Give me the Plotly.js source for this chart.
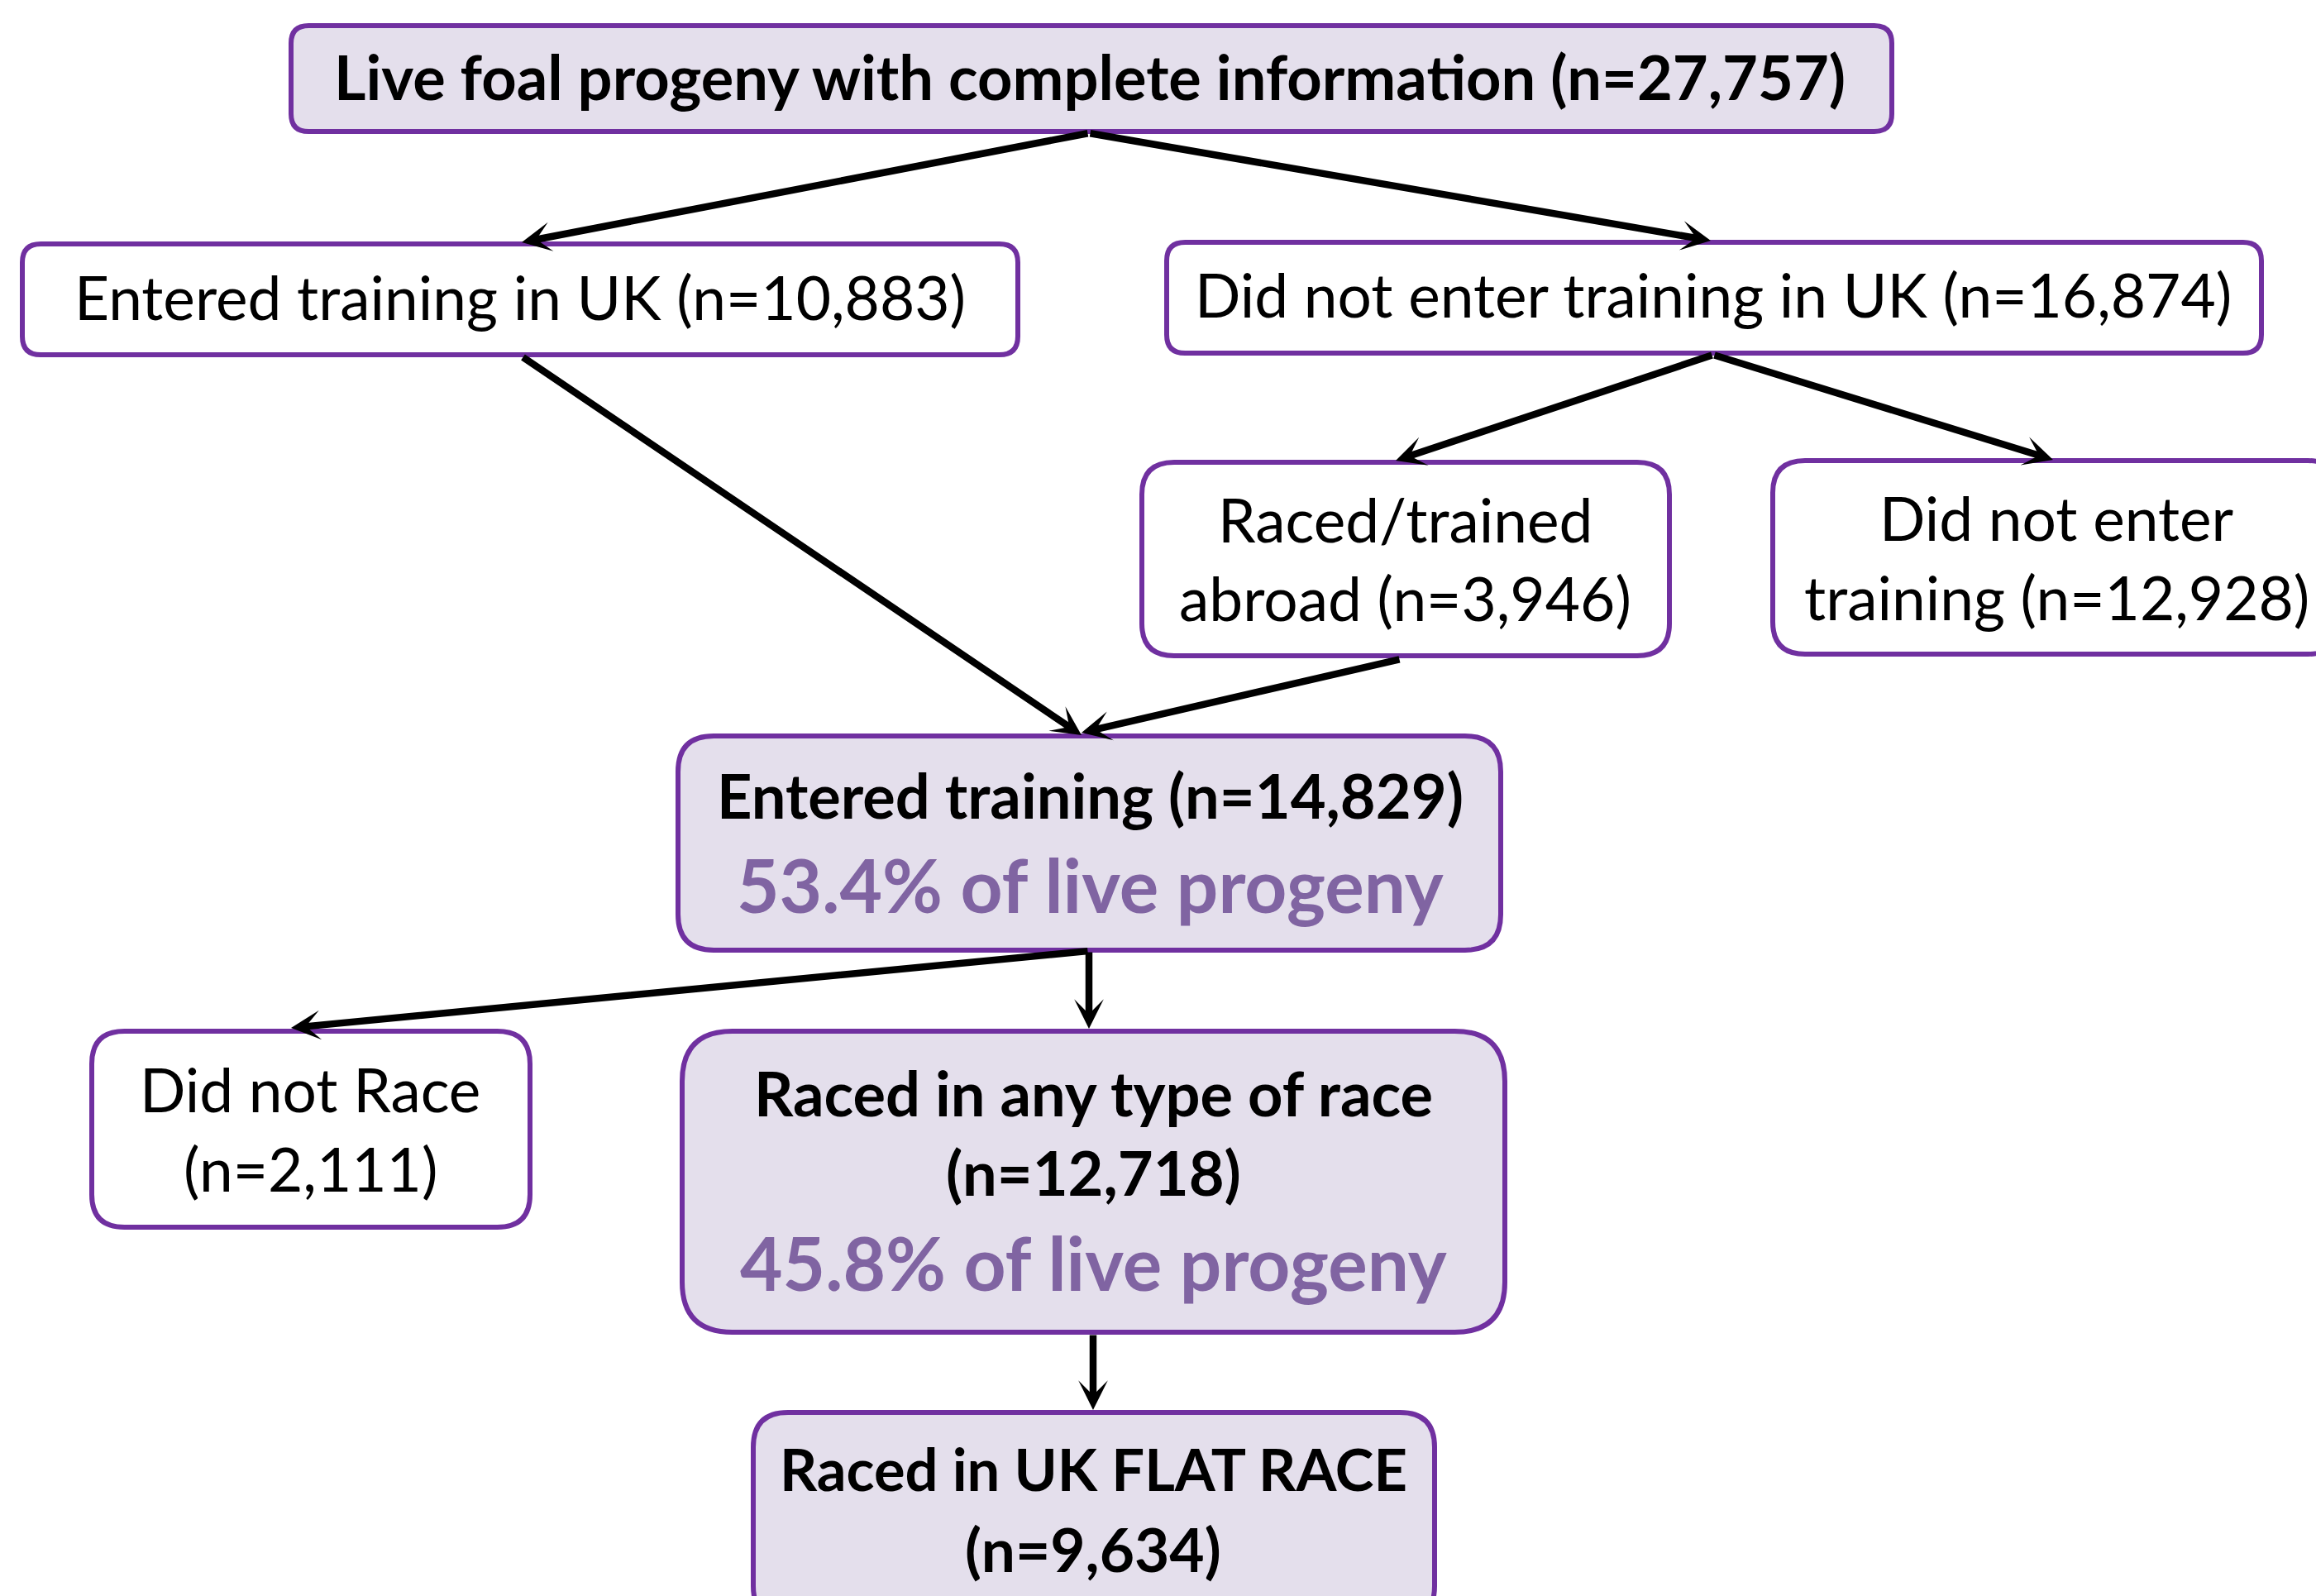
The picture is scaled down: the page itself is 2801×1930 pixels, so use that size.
<!DOCTYPE html>
<html>
<head>
<meta charset="utf-8">
<script src="https://cdn.plot.ly/plotly-3.0.1.min.js"></script>
<style>
html,body{margin:0;padding:0;background:#fff;}
#chart{width:2801px;height:1930px;}
</style>
</head>
<body>
<div id="chart"></div>
<script>
// ---- data ----
const stageNames = [
  "Live foal progeny with complete information",
  "Entered training in UK",
  "Did not enter training in UK",
  "Raced/trained abroad",
  "Did not enter training",
  "Entered training",
  "Did not Race",
  "Raced in any type of race",
  "Raced in UK FLAT RACE"
];
const stageCounts = [27757, 10883, 16874, 3946, 12928, 14829, 2111, 12718, 9634];
const highlighted = [true, false, false, false, false, true, false, true, true];
// flows: [from index, to index]
const flowFrom = [0, 0, 1, 2, 2, 3, 5, 5, 7];
const flowTo   = [1, 2, 5, 3, 4, 5, 6, 7, 8];

// ---- layout geometry (pixels) ----
const boxes = [
  {x0:352, x1:2288, y0:31, y1:159},
  {x0:27, x1:1231, y0:295, y1:429},
  {x0:1411, x1:2735, y0:293, y1:427},
  {x0:1381, x1:2019, y0:559, y1:793},
  {x0:2144, x1:2830, y0:557, y1:791},
  {x0:820, x1:1815, y0:890, y1:1149},
  {x0:111, x1:641, y0:1247, y1:1484},
  {x0:825, x1:1820, y0:1247, y1:1611},
  {x0:911, x1:1735, y0:1708, y1:1960}
];
const fmt = n => n.toLocaleString('en-US');
const pct = i => (100*stageCounts[i]/stageCounts[0]).toFixed(1) + "% of live progeny";
// text lines per box: [text, y, kind, size]
const lines = [
  [[stageNames[0] + " (n=" + fmt(stageCounts[0]) + ")", 92, 'b', 74]],
  [[stageNames[1] + " (n=" + fmt(stageCounts[1]) + ")", 359, 'r', 73]],
  [[stageNames[2] + " (n=" + fmt(stageCounts[2]) + ")", 356, 'r', 73]],
  [["Raced/trained", 628, 'r', 73], ["abroad (n=" + fmt(stageCounts[3]) + ")", 723, 'r', 73]],
  [["Did not enter", 626, 'r', 73], ["training (n=" + fmt(stageCounts[4]) + ")", 722, 'r', 73]],
  [[stageNames[5] + " (n=" + fmt(stageCounts[5]) + ")", 961, 'b', 74], [pct(5), 1069, 'p', 89]],
  [[stageNames[6], 1317, 'r', 73], ["(n=" + fmt(stageCounts[6]) + ")", 1413, 'r', 73]],
  [[stageNames[7], 1321, 'b', 74], ["(n=" + fmt(stageCounts[7]) + ")", 1417, 'b', 74], [pct(7), 1526, 'p', 89]],
  [[stageNames[8], 1775, 'b', 70.5], ["(n=" + fmt(stageCounts[8]) + ")", 1873, 'b', 73]]
];
const textX = [1318, 629, 2072, 1699, 2487, 1318, 375, 1322, 1322];
// arrow endpoints [tailX, tailY, headX, headY]
const arrows = [
  [1317,161, 631,293],
  [1317,161, 2069,291],
  [631,431, 1308,889],
  [2072,429, 1688,557],
  [2072,429, 2483,556],
  [1694,797, 1308,886],
  [1317,1150, 352,1243],
  [1317,1150, 1317,1244],
  [1322,1613, 1322,1705]
];

const PURPLE = '#7030A0';
const FILL = '#E4DFEC';
const PCT = '#8064A2';
const FONT = 'Lato, "Open Sans", sans-serif';

function rrect(b){
  const r = 0.1667*Math.min(b.x1-b.x0, b.y1-b.y0);
  const {x0,x1,y0,y1} = b;
  return `M${x0+r},${y0} L${x1-r},${y0} Q${x1},${y0} ${x1},${y0+r} L${x1},${y1-r} Q${x1},${y1} ${x1-r},${y1} L${x0+r},${y1} Q${x0},${y1} ${x0},${y1-r} L${x0},${y0+r} Q${x0},${y0} ${x0+r},${y0} Z`;
}

const shapes = boxes.map((b,i)=>({
  type:'path', path: rrect(b), xref:'x', yref:'y',
  line:{color:PURPLE, width:6},
  fillcolor: highlighted[i] ? FILL : '#FFFFFF',
  layer:'below'
}));

const annotations = [];
arrows.forEach((a)=>{
  annotations.push({
    x:a[2], y:a[3], ax:a[0], ay:a[1], xref:'x', yref:'y', axref:'x', ayref:'y',
    text:'', showarrow:true, arrowhead:3, arrowsize:0.7, arrowwidth:8.5, arrowcolor:'#000',
    standoff:0, startstandoff:0
  });
});
lines.forEach((ls, i)=>{
  ls.forEach(([t, y, kind, sz])=>{
    const f = kind==='b' ? {size:sz, color:'#000', family:FONT, weight:'bold'}
            : kind==='p' ? {size:sz, color:PCT, family:FONT, weight:'bold'}
            : {size:sz, color:'#000', family:FONT};
    annotations.push({
      x:textX[i], y:y, xref:'x', yref:'y', showarrow:false,
      text: kind==='r' ? t : '<b>'+t+'</b>', font:f, xanchor:'center', yanchor:'middle'
    });
  });
});

const layout = {
  width:2801, height:1930,
  margin:{l:0,r:0,t:0,b:0},
  paper_bgcolor:'#fff', plot_bgcolor:'#fff',
  xaxis:{range:[0,2801], visible:false, fixedrange:true},
  yaxis:{range:[1930,0], visible:false, fixedrange:true},
  shapes:shapes,
  annotations:annotations,
  showlegend:false
};
Plotly.newPlot('chart', [{x:[0], y:[0], mode:'markers', marker:{opacity:0}, hoverinfo:'skip'}], layout, {staticPlot:true});
</script>
</body>
</html>
